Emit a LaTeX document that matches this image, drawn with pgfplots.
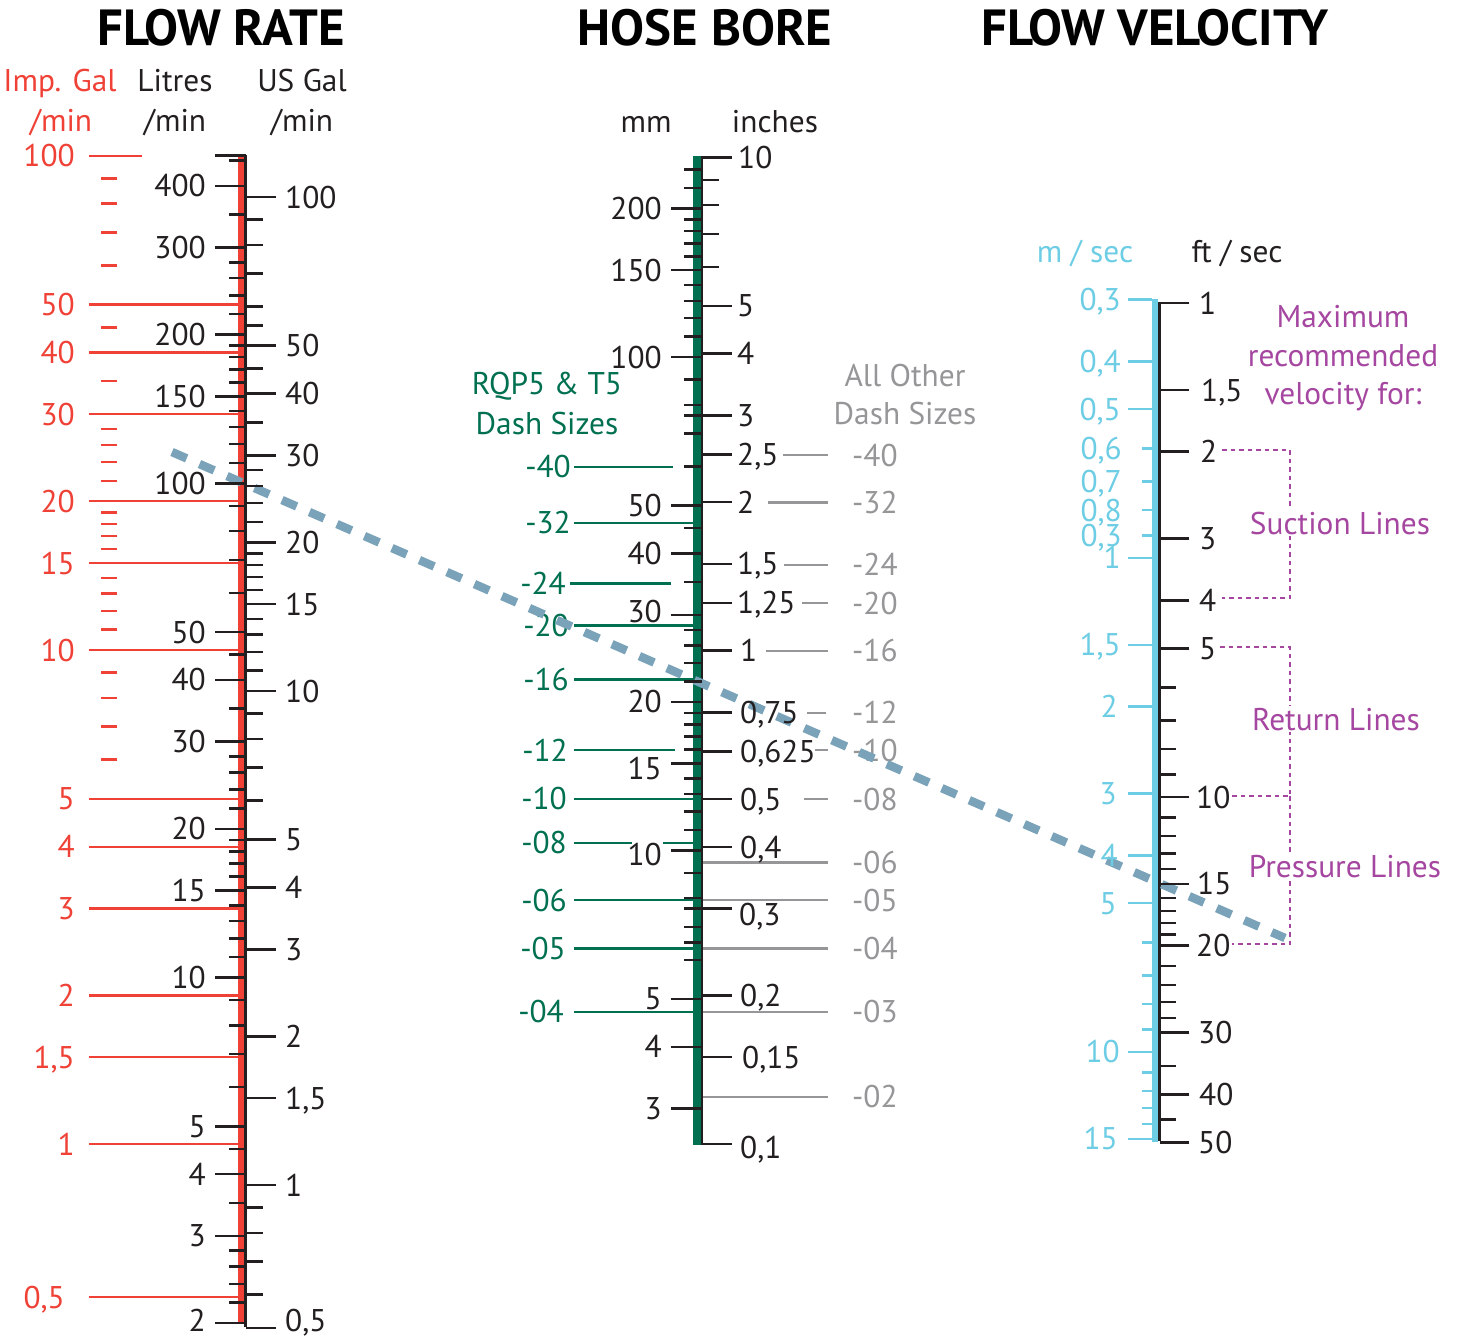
\documentclass[border=0pt]{standalone}
\usepackage{fontspec}
\setmainfont{PT Sans}
\usepackage{pgfplots}
\pgfplotsset{compat=1.18}
\usetikzlibrary{plotmarks}

\definecolor{cred}{RGB}{239,65,54}
\definecolor{cgreen}{RGB}{0,112,80}
\definecolor{cgray}{RGB}{150,150,152}
\definecolor{ccyan}{RGB}{109,205,228}
\definecolor{cpurple}{RGB}{165,70,160}
\definecolor{cdash}{RGB}{122,163,185}
\definecolor{cblack}{RGB}{35,31,32}

\newcommand\lab{\fontsize{31.5}{33}\selectfont}
\newcommand\ttl{\fontsize{51}{53}\selectfont\bfseries}

\pgfplotsset{
  litres/.style={y filter/.expression={1471.7-214.628*ln(y)}},
  usgal/.style={y filter/.expression={1185-214.541*ln(y)}},
  impgal/.style={y filter/.expression={1144.2-214.628*ln(y)}},
  mm/.style={y filter/.expression={1343.8-214.281*ln(y)}},
  inch/.style={y filter/.expression={650.7-214.281*ln(y)}},
  ms/.style={y filter/.expression={557.9+214.541*ln(y)}},
  fts/.style={y filter/.expression={303+214.541*ln(y)}},
  tk/.style={only marks, mark=-, mark size=#1, mark options={line width=2.5bp, solid}},
  lbl/.style={only marks, mark=none, point meta=explicit symbolic,
     nodes near coords={\pgfplotspointmeta},
     nodes near coords style={anchor=#1, inner sep=0pt, font=\lab, text height=22bp, text depth=0pt}},
}

\begin{document}
\begin{tikzpicture}
\begin{axis}[
  at={(0,0)}, anchor=south west,
  scale only axis, width=1460bp, height=1339bp,
  xmin=0, xmax=1460, ymin=0, ymax=1339, y dir=reverse,
  hide axis, clip=false,
]
% ================= FLOW RATE =================
\addplot[cred, line width=6.5bp, mark=none] coordinates {(241,155) (241,1322)};
\addplot[cblack, line width=2.4bp, mark=none] coordinates {(245.5,155) (245.5,1327)};
% Litres
\addplot[cblack, litres, tk=15.3bp] coordinates {(230.2,461)(230.2,400)(230.2,300)(230.2,200)(230.2,150)(230.2,100)(230.2,50)(230.2,40)(230.2,30)(230.2,20)(230.2,15)(230.2,10)(230.2,5)(230.2,4)(230.2,3)(230.2,2)};
\addplot[cblack, litres, tk=8.4bp] coordinates {(237.1,450)(237.1,350)(237.1,280)(237.1,260)(237.1,240)(237.1,220)(237.1,190)(237.1,180)(237.1,170)(237.1,160)(237.1,140)(237.1,130)(237.1,120)(237.1,110)(237.1,90)(237.1,80)(237.1,70)(237.1,60)(237.1,45)(237.1,35)(237.1,28)(237.1,26)(237.1,24)(237.1,22)(237.1,19)(237.1,18)(237.1,17)(237.1,16)(237.1,14)(237.1,13)(237.1,12)(237.1,11)(237.1,9)(237.1,8)(237.1,7)(237.1,6)(237.1,4.5)(237.1,3.5)(237.1,2.8)(237.1,2.6)(237.1,2.4)(237.1,2.2)};
\addplot[litres, lbl=east, nodes near coords style={text=cblack}] coordinates {(206,400)[400] (206,300)[300] (206,200)[200] (206,150)[150] (206,100)[100] (206,50)[50] (206,40)[40] (206,30)[30] (206,20)[20] (206,15)[15] (206,10)[10] (206,5)[5] (206,4)[4] (206,3)[3] (206,2.02)[2]};
% US Gal
\addplot[cblack, usgal, tk=15.2bp] coordinates {(260.7,100)(260.7,50)(260.7,40)(260.7,30)(260.7,20)(260.7,15)(260.7,10)(260.7,5)(260.7,4)(260.7,3)(260.7,2)(260.7,1.5)(260.7,1)(260.7,0.513)};
\addplot[cblack, usgal, tk=8.6bp] coordinates {(254.1,90)(254.1,80)(254.1,70)(254.1,60)(254.1,55)(254.1,45)(254.1,35)(254.1,28)(254.1,26)(254.1,24)(254.1,22)(254.1,19)(254.1,18)(254.1,17)(254.1,16)(254.1,14)(254.1,13)(254.1,12)(254.1,11)(254.1,9)(254.1,8)(254.1,7)(254.1,6)(254.1,0.9)(254.1,0.8)(254.1,0.7)(254.1,0.6)};
\addplot[usgal, lbl=west, nodes near coords style={text=cblack}] coordinates {(285,100)[100] (285,50)[50] (285,40)[40] (285,30)[30] (285,20)[20] (285,15)[15] (285,10)[10] (285,5)[5] (285,4)[4] (285,3)[3] (285,2)[2] (285,1.5)[{1,5}] (285,1)[1] (285,0.532)[{0,5}]};
% Imp Gal
\addplot[cred, impgal, only marks, mark=-, mark size=74.4bp, mark options={line width=2.3bp}] coordinates {(163.7,50)(163.7,40)(163.7,30)(163.7,20)(163.7,15)(163.7,10)(163.7,5)(163.7,4)(163.7,3)(163.7,2)(163.7,1.5)(163.7,1)(163.7,0.49)};
\addplot[cred, impgal, only marks, mark=-, mark size=26.4bp, mark options={line width=2.3bp}] coordinates {(115.7,100)};
\addplot[cred, impgal, only marks, mark=-, mark size=8.2bp, mark options={line width=2.6bp}] coordinates {(109.2,90)(109.2,80)(109.2,70)(109.2,60)(109.2,45)(109.2,35)(109.2,28)(109.2,26)(109.2,24)(109.2,22)(109.2,19)(109.2,18)(109.2,17)(109.2,16)(109.2,14)(109.2,13)(109.2,12)(109.2,11)(109.2,9)(109.2,8)(109.2,7)(109.2,6)};
\addplot[impgal, lbl=east, nodes near coords style={text=cred}] coordinates {(75,100)[100] (75,50)[50] (75,40)[40] (75,30)[30] (75,20)[20] (75,15)[15] (75,10)[10] (75,5)[5] (75,4)[4] (75,3)[3] (75,2)[2] (75,1.5)[{1,5}] (75,1)[1] (65,0.49)[{0,5}]};

% ================= HOSE BORE =================
\addplot[cgreen, line width=7.6bp, mark=none] coordinates {(697,156) (697,1145)};
\addplot[cblack, line width=2.3bp, mark=none] coordinates {(701.8,156) (701.8,1144.5)};
% mm
\addplot[cblack, mm, tk=15.5bp] coordinates {(686.2,200)(686.2,150)(686.2,100)(686.2,50)(686.2,40)(686.2,30)(686.2,20)(686.2,15)(686.2,10)(686.2,5)(686.2,4)(686.2,3)};
\addplot[cblack, mm, tk=8.8bp] coordinates {(693,240)(693,220)(693,190)(693,180)(693,170)(693,160)(693,140)(693,130)(693,120)(693,110)(693,90)(693,80)(693,76.2)(693,70)(693,60)(693,45)(693,35)(693,28)(693,26)(693,24)(693,22)(693,19)(693,18)(693,17)(693,16)(693,14)(693,13)(693,12)(693,11)(693,9)(693,8)(693,7.62)(693,7)(693,6.5)(693,6)};
\addplot[mm, lbl=east, nodes near coords style={text=cblack}] coordinates {(662,200)[200] (662,150)[150] (662,100)[100] (662,50)[50] (662,40)[40] (662,30.46)[30] (662,20)[20] (662,14.67)[15] (662,9.79)[10] (662,5)[5] (662,4)[4] (662,3)[3]};
% inches
\addplot[cblack, inch, tk=15bp] coordinates {(716.7,10)(716.7,5)(716.7,4)(716.7,3)(716.7,2.5)(716.7,2)(716.7,1.5)(716.7,1.25)(716.7,1)(716.7,0.75)(716.7,0.625)(716.7,0.5)(716.7,0.4)(716.7,0.3)(716.7,0.2)(716.7,0.15)(716.7,0.1)};
\addplot[cblack, inch, tk=8.5bp] coordinates {(710.2,9)(710.2,8)(710.2,7)(710.2,6)};
\addplot[inch, lbl=west, nodes near coords style={text=cblack}] coordinates {(738,10)[10] (737,5)[5] (737,4)[4] (737,3)[3] (737,2.5)[{2,5}] (737,2)[2] (737,1.5)[{1,5}] (737,1.25)[{1,25}] (740,1)[1] (740,0.75)[{0,75}] (740,0.625)[{0,625}] (740,0.5)[{0,5}] (740,0.4)[{0,4}] (739,0.2926)[{0,3}] (740,0.2)[{0,2}] (742,0.15)[{0,15}] (740,0.0986)[{0,1}]};
% RQP5 & T5 dash sizes (green)
\addplot[cgreen, line width=2.4bp, mark=none] coordinates {(574,466.7)(673,466.7)};
\addplot[cgreen, line width=2.4bp, mark=none] coordinates {(574,522.7)(694,522.7)};
\addplot[cgreen, line width=2.4bp, mark=none] coordinates {(570,583.3)(670.7,583.3)};
\addplot[cgreen, line width=2.4bp, mark=none] coordinates {(574,625.3)(694,625.3)};
\addplot[cgreen, line width=2.4bp, mark=none] coordinates {(574,679.3)(694,679.3)};
\addplot[cgreen, line width=2.4bp, mark=none] coordinates {(574,750)(675,750)};
\addplot[cgreen, line width=2.4bp, mark=none] coordinates {(574,798.7)(694,798.7)};
\addplot[cgreen, line width=2.4bp, mark=none] coordinates {(574,842.7)(632,842.7)};
\addplot[cgreen, line width=2.4bp, mark=none] coordinates {(663,842.7)(694,842.7)};
\addplot[cgreen, line width=2.4bp, mark=none] coordinates {(574,900)(694,900)};
\addplot[cgreen, line width=2.4bp, mark=none] coordinates {(574,948.5)(694,948.5)};
\addplot[cgreen, line width=2.4bp, mark=none] coordinates {(574,1011.7)(694,1011.7)};
% All other dash sizes (gray)
\addplot[cgray, line width=2.4bp, mark=none] coordinates {(783,455)(828,455)};
\addplot[cgray, line width=2.4bp, mark=none] coordinates {(768,502.3)(828,502.3)};
\addplot[cgray, line width=2.4bp, mark=none] coordinates {(784,564.7)(828,564.7)};
\addplot[cgray, line width=2.4bp, mark=none] coordinates {(802,603)(828,603)};
\addplot[cgray, line width=2.4bp, mark=none] coordinates {(766,650.7)(828,650.7)};
\addplot[cgray, line width=2.4bp, mark=none] coordinates {(807,712.7)(826,712.7)};
\addplot[cgray, line width=2.4bp, mark=none] coordinates {(815,750)(828,750)};
\addplot[cgray, line width=2.4bp, mark=none] coordinates {(804,799)(828,799)};
\addplot[cgray, line width=2.4bp, mark=none] coordinates {(703,862.3)(828,862.3)};
\addplot[cgray, line width=2.4bp, mark=none] coordinates {(703,900)(828,900)};
\addplot[cgray, line width=2.4bp, mark=none] coordinates {(703,948.5)(828,948.5)};
\addplot[cgray, line width=2.4bp, mark=none] coordinates {(703,1011.7)(828,1011.7)};
\addplot[cgray, line width=2.4bp, mark=none] coordinates {(703,1096.7)(828,1096.7)};

% ================= FLOW VELOCITY =================
\addplot[ccyan, line width=6.6bp, mark=none] coordinates {(1155,299) (1155,1142)};
\addplot[cblack, line width=2.3bp, mark=none] coordinates {(1159.5,302) (1159.5,1141)};
% ft/s
\addplot[cblack, fts, tk=14.9bp] coordinates {(1174.4,1)(1174.4,1.5)(1174.4,2)(1174.4,3)(1174.4,4)(1174.4,5)(1174.4,10)(1174.4,15)(1174.4,20)(1174.4,30)(1174.4,40)(1174.4,50)};
\addplot[cblack, fts, tk=8.3bp] coordinates {(1167.7,6)(1167.7,7)(1167.7,8)(1167.7,9)(1167.7,11)(1167.7,12)(1167.7,13)(1167.7,14)(1167.7,16)(1167.7,17)(1167.7,18)(1167.7,19)(1167.7,22)(1167.7,24)(1167.7,26)(1167.7,28)(1167.7,35)(1167.7,45)};
\addplot[fts, lbl=west, nodes near coords style={text=cblack}] coordinates {(1199,1)[1] (1201,1.5)[{1,5}] (1200,2)[2] (1199,3)[3] (1199,4)[4] (1199,5)[5] (1196,10)[10] (1197,15)[15] (1196,20)[20] (1198,30)[30] (1199,40)[40] (1198,50)[50]};
% m/s
\addplot[ccyan, ms, only marks, mark=-, mark size=11.9bp, mark options={line width=2.5bp}] coordinates {(1140.1,0.3)(1140.1,0.4)(1140.1,0.5)(1140.1,1)(1140.1,1.5)(1140.1,2)(1140.1,3)(1140.1,4)(1140.1,5)(1140.1,10)(1140.1,15)};
\addplot[ccyan, ms, only marks, mark=-, mark size=4.9bp, mark options={line width=2.5bp}] coordinates {(1147.1,0.6)(1147.1,0.7)(1147.1,0.8)(1147.1,0.9)(1147.1,6)(1147.1,7)(1147.1,8)(1147.1,9)(1147.1,11)(1147.1,12)(1147.1,13)(1147.1,14)};
\addplot[ms, lbl=east, nodes near coords style={text=ccyan}] coordinates {(1121,0.3)[{0,3}] (1121,0.4)[{0,4}] (1121,0.5)[{0,5}] (1122,0.6)[{0,6}] (1122,0.7)[{0,7}] (1122,0.8)[{0,8}] (1122,0.9)[{0,3}] (1121,1)[1] (1121,1.5)[{1,5}] (1118,2)[2] (1117,3)[3] (1118,4)[4] (1117,5)[5] (1120,10)[10] (1118,15)[15]};
% recommended velocity brackets
\addplot[cpurple, line width=2bp, mark=none, dash pattern=on 4.5bp off 4bp] coordinates {(1222,450)(1290,450)(1290,598)(1222,598)};
\addplot[cpurple, line width=2bp, mark=none, dash pattern=on 4.5bp off 4bp] coordinates {(1220,647)(1290,647)(1290,796)(1229,796)};
\addplot[cpurple, line width=2bp, mark=none, dash pattern=on 4.5bp off 4bp] coordinates {(1290,796)(1290,944)(1232,944)};

% ================= TEXT =================
\node[anchor=base, font=\ttl, text=black] at (axis cs:221,45) {FLOW RATE};
\node[anchor=base, font=\ttl, text=black] at (axis cs:705,45) {HOSE BORE};
\node[anchor=base, font=\ttl, text=black] at (axis cs:1155,45) {FLOW VELOCITY};
\node[anchor=base, font=\lab, text=cred] at (axis cs:60,91) {Imp. Gal};
\node[anchor=base, font=\lab, text=cred] at (axis cs:61,131) {/min};
\node[anchor=base, font=\lab, text=cblack] at (axis cs:175,91) {Litres};
\node[anchor=base, font=\lab, text=cblack] at (axis cs:175,131) {/min};
\node[anchor=base, font=\lab, text=cblack] at (axis cs:302,91) {US Gal};
\node[anchor=base, font=\lab, text=cblack] at (axis cs:302,131) {/min};
\node[anchor=base, font=\lab, text=cblack] at (axis cs:646,132) {mm};
\node[anchor=base, font=\lab, text=cblack] at (axis cs:775,132) {inches};
\node[anchor=base, font=\lab, text=cgreen] at (axis cs:547,394) {RQP5 \& T5};
\node[anchor=base, font=\lab, text=cgreen] at (axis cs:547,434) {Dash Sizes};
\node[anchor=base, font=\lab, text=cgray] at (axis cs:905,386) {All Other};
\node[anchor=base, font=\lab, text=cgray] at (axis cs:905,424) {Dash Sizes};
\node[anchor=base, font=\lab, text=ccyan] at (axis cs:1085,262) {m / sec};
\node[anchor=base, font=\lab, text=cblack] at (axis cs:1237,262) {ft / sec};
\node[anchor=base, font=\lab, text=cpurple] at (axis cs:1343,327) {Maximum};
\node[anchor=base, font=\lab, text=cpurple] at (axis cs:1343,366) {recommended};
\node[anchor=base, font=\lab, text=cpurple] at (axis cs:1343,404) {velocity for:};
\node[anchor=base, font=\lab, text=cpurple, fill=white, inner sep=2bp] at (axis cs:1340,534) {Suction Lines};
\node[anchor=base, font=\lab, text=cpurple, fill=white, inner sep=2bp] at (axis cs:1336,730) {Return Lines};
\node[anchor=base, font=\lab, text=cpurple, fill=white, inner sep=2bp] at (axis cs:1345,877) {Pressure Lines};
% green dash labels
\foreach \yy/\xx/\tt in {466.7/571/-40, 522.7/571/-32, 583.3/566/-24, 625.3/569/-20, 679.3/569/-16, 750/568/-12, 798.7/567/-10, 842.7/567/-08, 900/567/-06, 948.5/566/-05, 1011.7/564/-04}{
  \edef\temp{\noexpand\node[anchor=east, font=\noexpand\lab, text=cgreen, inner sep=0pt, text height=22bp, text depth=0pt] at (axis cs:\xx,\yy) {\tt};}\temp
}
% gray dash labels
\foreach \yy/\tt in {455/-40, 502.3/-32, 564.7/-24, 603/-20, 650.7/-16, 712.7/-12, 750/-10, 799/-08, 862.3/-06, 900/-05, 948.5/-04, 1011.7/-03, 1096.7/-02}{
  \edef\temp{\noexpand\node[anchor=west, font=\noexpand\lab, text=cgray, inner sep=0pt, text height=22bp, text depth=0pt] at (axis cs:852,\yy) {\tt};}\temp
}
% example reading line
\addplot[cdash, line width=8.5bp, mark=none, dash pattern=on 16bp off 14bp] coordinates {(172,452)(1285,938)};
\end{axis}
\pgfresetboundingbox
\path[use as bounding box] (0,0) rectangle (1460bp,1339bp);
\end{tikzpicture}
\end{document}
